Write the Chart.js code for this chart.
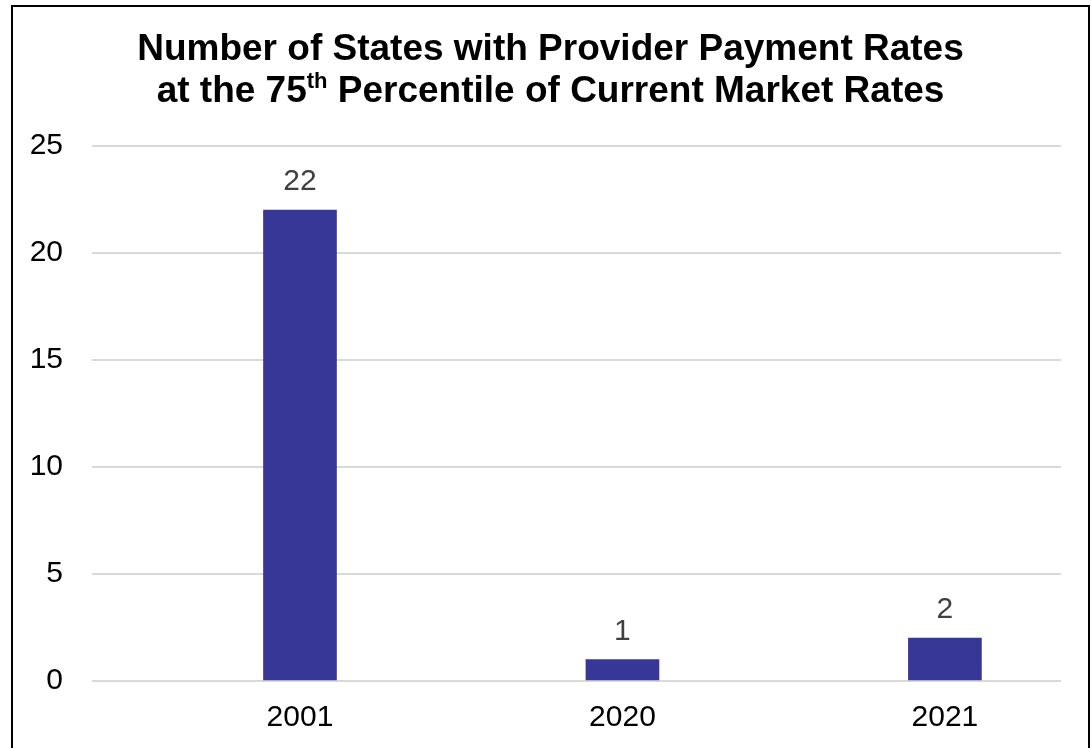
<!DOCTYPE html>
<html>
<head>
<meta charset="utf-8">
<script src="https://cdn.jsdelivr.net/npm/chart.js@4/dist/chart.umd.min.js"></script>
<style>
  html, body { margin: 0; padding: 0; background: #fff; }
  body { width: 1092px; height: 748px; position: relative; overflow: hidden; }
  #frame {
    position: absolute; left: 11px; top: 5px;
    width: 1079px; height: 800px;
    box-sizing: border-box; border: 2px solid #000;
    pointer-events: none;
  }
  #title {
    position: absolute; left: 11px; top: 27px; width: 1079px;
    text-align: center;
    font-family: "Liberation Sans", Arial, sans-serif;
    font-weight: bold; font-size: 37px; line-height: 42px; color: #000;
  }
  #title sup { font-size: 22px; line-height: 0; vertical-align: 14px; }
  #chart { position: absolute; left: 0; top: 0; }
</style>
</head>
<body>
<canvas id="chart" width="1092" height="748"></canvas>
<div id="title">Number of States with Provider Payment Rates<br>at the 75<sup>th</sup> Percentile of Current Market Rates</div>
<div id="frame"></div>
<script>
const years = ["2001", "2020", "2021"];
const statesAt75th = [22, 1, 2];
const yTicks = [0, 5, 10, 15, 20, 25];

const FONT = "'Liberation Sans', Arial, sans-serif";

// value labels above each bar
const barValueLabels = {
  id: "barValueLabels",
  afterDatasetsDraw(chart) {
    const ctx = chart.ctx;
    const meta = chart.getDatasetMeta(0);
    ctx.save();
    ctx.font = "30px " + FONT;
    ctx.fillStyle = "#404040";
    ctx.textAlign = "center";
    ctx.textBaseline = "alphabetic";
    meta.data.forEach((bar, i) => {
      ctx.fillText(String(statesAt75th[i]), bar.x, bar.y - 20);
    });
    ctx.restore();
  }
};

const ctx = document.getElementById("chart");

new Chart(ctx, {
  type: "bar",
  data: {
    datasets: [{
      data: years.map((_, i) => ({ x: i, y: statesAt75th[i] })),
      backgroundColor: "#373797",
      barThickness: 73
    }]
  },
  options: {
    responsive: false,
    animation: false,
    layout: { padding: { top: 146, bottom: 14, left: 30, right: 31 } },
    plugins: {
      legend: { display: false },
      tooltip: { enabled: false }
    },
    scales: {
      x: {
        type: "linear",
        offset: false,
        min: -0.645,
        max: 2.36,
        grid: { display: false },
        border: { display: false },
        afterBuildTicks: (scale) => {
          scale.ticks = years.map((_, i) => ({ value: i }));
        },
        afterFit: (scale) => { scale.height = 53; },
        ticks: {
          padding: 11,
          color: "#000",
          font: { family: FONT, size: 30 },
          callback: (v) => years[v]
        }
      },
      y: {
        min: 0,
        max: 25,
        afterBuildTicks: (scale) => {
          scale.ticks = yTicks.map(v => ({ value: v }));
        },
        afterFit: (scale) => { scale.width = 62; },
        grid: { color: "#d9d9d9", lineWidth: 2, drawTicks: false },
        border: { display: false },
        ticks: {
          padding: 29,
          color: "#000",
          font: { family: FONT, size: 30 }
        }
      }
    }
  },
  plugins: [barValueLabels]
});
</script>
</body>
</html>
